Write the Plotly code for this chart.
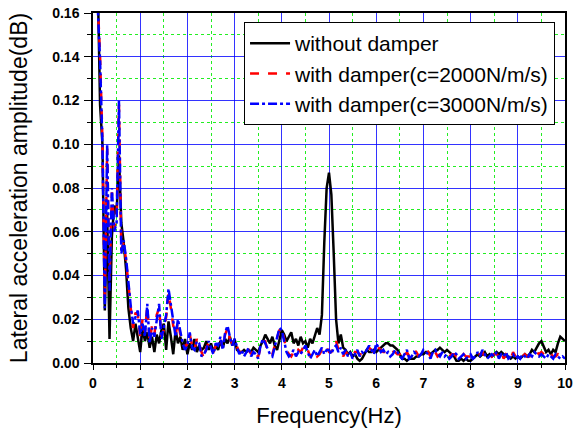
import plotly.graph_objects as go

# Frequency grid (Hz): 0.10 .. 10.00, step 0.05
FREQ_START = 0.10
FREQ_STEP = 0.05

without_damper = [
    0.175, 0.118, 0.100, 0.024, 0.068, 0.011, 0.058, 0.072,
    0.068, 0.095, 0.064, 0.055, 0.043, 0.025, 0.016, 0.010, 0.018, 0.012,
    0.005, 0.016, 0.010, 0.014, 0.007, 0.012, 0.005, 0.013, 0.009, 0.015,
    0.018, 0.006, 0.019, 0.012, 0.004, 0.015, 0.009, 0.012, 0.006, 0.011,
    0.004, 0.009, 0.006, 0.011, 0.005, 0.008, 0.006, 0.007, 0.010, 0.006,
    0.009, 0.005, 0.008, 0.006, 0.010, 0.007, 0.011, 0.009, 0.012, 0.008,
    0.011, 0.006, 0.005, 0.005, 0.006, 0.005, 0.006, 0.005, 0.007, 0.006,
    0.005, 0.008, 0.010, 0.013, 0.011, 0.009, 0.012, 0.008, 0.006, 0.011,
    0.015, 0.013, 0.010, 0.012, 0.014, 0.009, 0.011, 0.008, 0.012, 0.009,
    0.010, 0.007, 0.011, 0.009, 0.012, 0.016, 0.013, 0.022, 0.055, 0.080,
    0.087, 0.077, 0.050, 0.020, 0.009, 0.013, 0.007, 0.006, 0.004, 0.005,
    0.003, 0.004, 0.002, 0.001, 0.002, 0.004, 0.006, 0.005, 0.005, 0.006,
    0.005, 0.006, 0.007, 0.008, 0.009, 0.009, 0.008, 0.008, 0.007, 0.006,
    0.004, 0.002, 0.002, 0.001, 0.002, 0.002, 0.002, 0.003, 0.003, 0.004,
    0.004, 0.005, 0.005, 0.004, 0.005, 0.006, 0.006, 0.007, 0.006, 0.005,
    0.006, 0.005, 0.004, 0.003, 0.001, 0.001, 0.002, 0.001, 0.002, 0.001,
    0.001, 0.002, 0.003, 0.004, 0.003, 0.004, 0.005, 0.003, 0.004, 0.003,
    0.004, 0.005, 0.004, 0.005, 0.004, 0.003, 0.003, 0.002, 0.003, 0.002,
    0.003, 0.002, 0.003, 0.004, 0.003, 0.004, 0.006, 0.005, 0.007, 0.009,
    0.010, 0.007, 0.005, 0.006, 0.004, 0.006, 0.005, 0.009, 0.012, 0.011,
    0.010,
]

damper_2000 = [
    0.165, 0.140, 0.102, 0.028, 0.098, 0.038, 0.078, 0.062,
    0.066, 0.118, 0.052, 0.055, 0.047, 0.035, 0.025, 0.016, 0.023, 0.022,
    0.012, 0.020, 0.014, 0.026, 0.010, 0.017, 0.013, 0.022, 0.025, 0.012,
    0.015, 0.021, 0.032, 0.025, 0.017, 0.013, 0.019, 0.013, 0.010, 0.007,
    0.009, 0.013, 0.008, 0.006, 0.011, 0.008, 0.004, 0.002, 0.007, 0.009,
    0.008, 0.005, 0.008, 0.009, 0.011, 0.007, 0.013, 0.016, 0.011, 0.009,
    0.010, 0.007, 0.005, 0.005, 0.004, 0.006, 0.006, 0.004, 0.006, 0.003,
    0.003, 0.007, 0.010, 0.010, 0.005, 0.004, 0.004, 0.008, 0.011, 0.015,
    0.016, 0.011, 0.006, 0.004, 0.003, 0.005, 0.004, 0.006, 0.005, 0.007,
    0.008, 0.006, 0.003, 0.005, 0.005, 0.003, 0.004, 0.006, 0.005, 0.007,
    0.005, 0.005, 0.008, 0.010, 0.006, 0.006, 0.003, 0.005, 0.004, 0.004,
    0.003, 0.005, 0.005, 0.004, 0.004, 0.005, 0.005, 0.007, 0.006, 0.005,
    0.008, 0.007, 0.006, 0.005, 0.005, 0.004, 0.004, 0.005, 0.005, 0.004,
    0.004, 0.002, 0.003, 0.005, 0.003, 0.004, 0.006, 0.005, 0.003, 0.005,
    0.005, 0.004, 0.005, 0.003, 0.006, 0.005, 0.003, 0.004, 0.004, 0.003,
    0.003, 0.003, 0.004, 0.004, 0.003, 0.003, 0.002, 0.004, 0.003, 0.003,
    0.003, 0.003, 0.004, 0.004, 0.004, 0.005, 0.003, 0.003, 0.004, 0.003,
    0.004, 0.004, 0.003, 0.005, 0.002, 0.004, 0.003, 0.002, 0.005, 0.003,
    0.002, 0.003, 0.003, 0.004, 0.003, 0.003, 0.004, 0.004, 0.005, 0.004,
    0.005, 0.004, 0.003, 0.003, 0.004, 0.003, 0.003, 0.004, 0.003, 0.002,
    0.003,
]

damper_3000 = [
    0.163, 0.138, 0.100, 0.025, 0.100, 0.033, 0.080, 0.060,
    0.064, 0.120, 0.050, 0.056, 0.048, 0.036, 0.026, 0.018, 0.021, 0.024,
    0.013, 0.018, 0.012, 0.027, 0.009, 0.016, 0.012, 0.020, 0.027, 0.011,
    0.016, 0.022, 0.034, 0.026, 0.018, 0.012, 0.020, 0.014, 0.009, 0.006,
    0.008, 0.014, 0.007, 0.006, 0.010, 0.009, 0.003, 0.004, 0.006, 0.010,
    0.007, 0.004, 0.009, 0.008, 0.012, 0.006, 0.014, 0.017, 0.012, 0.008,
    0.011, 0.008, 0.004, 0.006, 0.003, 0.005, 0.007, 0.003, 0.005, 0.004,
    0.002, 0.008, 0.011, 0.009, 0.006, 0.004, 0.003, 0.007, 0.012, 0.016,
    0.015, 0.010, 0.005, 0.003, 0.004, 0.006, 0.003, 0.005, 0.004, 0.006,
    0.008, 0.005, 0.002, 0.004, 0.006, 0.003, 0.005, 0.007, 0.004, 0.006,
    0.006, 0.004, 0.007, 0.008, 0.005, 0.007, 0.004, 0.006, 0.003, 0.005,
    0.002, 0.004, 0.006, 0.003, 0.005, 0.004, 0.006, 0.008, 0.006, 0.004,
    0.009, 0.007, 0.005, 0.006, 0.004, 0.005, 0.003, 0.004, 0.006, 0.005,
    0.003, 0.002, 0.004, 0.006, 0.002, 0.003, 0.005, 0.004, 0.003, 0.004,
    0.006, 0.005, 0.004, 0.002, 0.005, 0.006, 0.004, 0.003, 0.005, 0.003,
    0.004, 0.002, 0.003, 0.005, 0.004, 0.002, 0.003, 0.004, 0.002, 0.003,
    0.004, 0.002, 0.003, 0.005, 0.003, 0.006, 0.004, 0.002, 0.003, 0.004,
    0.003, 0.005, 0.002, 0.004, 0.003, 0.005, 0.002, 0.003, 0.004, 0.002,
    0.003, 0.002, 0.004, 0.003, 0.002, 0.004, 0.003, 0.005, 0.004, 0.003,
    0.004, 0.003, 0.002, 0.004, 0.003, 0.002, 0.004, 0.003, 0.002, 0.003,
    0.002,
]

series_names = [
    "without damper",
    "with damper(c=2000N/m/s)",
    "with damper(c=3000N/m/s)",
]


def freqs(n):
    return [round(FREQ_START + FREQ_STEP * i, 2) for i in range(n)]


fig = go.Figure()
fig.add_trace(go.Scatter(x=freqs(len(without_damper)), y=without_damper, mode="lines",
                         name=series_names[0], line=dict(color="black", width=2.5)))
fig.add_trace(go.Scatter(x=freqs(len(damper_2000)), y=damper_2000, mode="lines",
                         name=series_names[1], line=dict(color="red", width=2.5, dash="dash")))
fig.add_trace(go.Scatter(x=freqs(len(damper_3000)), y=damper_3000, mode="lines",
                         name=series_names[2], line=dict(color="blue", width=2.5, dash="dashdot")))

axis_common = dict(
    showline=True, linecolor="black", linewidth=1.5, mirror=True,
    ticks="outside", tickcolor="black", tickwidth=1.2,
    showgrid=True, gridcolor="rgba(0,0,255,0.8)", gridwidth=1,
    zeroline=False, automargin=False,
    tickfont=dict(family="Arial", size=14, color="black", weight=700),
)

fig.update_layout(
    width=573, height=428,
    margin=dict(l=93, r=8, t=13, b=65),
    paper_bgcolor="white", plot_bgcolor="white",
    font=dict(family="Arial", color="black"),
    xaxis=dict(
        range=[0, 10], dtick=1, ticklen=5, ticklabelstandoff=1,
        minor=dict(dtick=0.5, showgrid=True, gridcolor="#22ee22", griddash="dot",
                   gridwidth=1, ticks="outside", ticklen=3, tickcolor="black"),
        title=dict(text="Frequency(Hz)", font=dict(size=22), standoff=20),
        **axis_common,
    ),
    yaxis=dict(
        range=[0, 0.16], dtick=0.02, tickformat=".2f", ticklen=7, ticklabelstandoff=2,
        minor=dict(dtick=0.01, showgrid=True, gridcolor="#22ee22", griddash="dot",
                   gridwidth=1, ticks="outside", ticklen=4, tickcolor="black"),
        title=dict(text="Lateral acceleration amplitude(dB)", font=dict(size=23), standoff=18),
        **axis_common,
    ),
    legend=dict(
        x=0.32, y=0.974, xanchor="left", yanchor="top",
        bgcolor="white", bordercolor="black", borderwidth=1,
        font=dict(size=21, family="Arial"),
        tracegroupgap=0, itemwidth=40,
    ),
    showlegend=True,
)

fig.write_html("out.html", post_script="document.body.style.margin='0';",
               config={"displayModeBar": False})
